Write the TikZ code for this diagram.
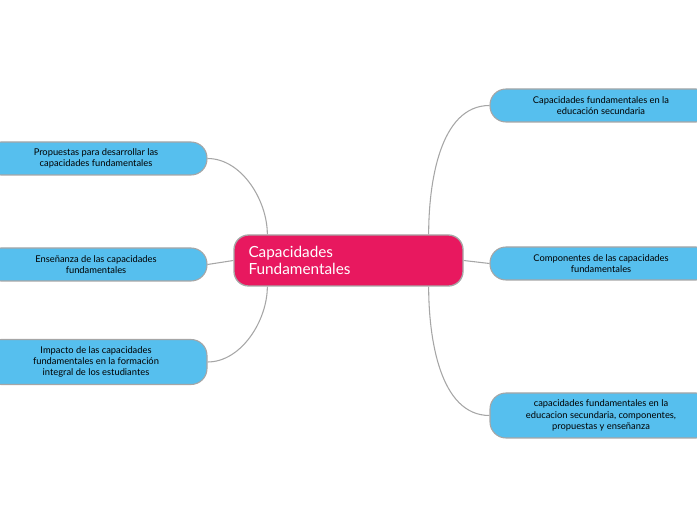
\documentclass[tikz,border=0pt]{standalone}
\usepackage{fontspec}
\setmainfont{Lato}
\usetikzlibrary{calc}
\begin{document}
\begin{tikzpicture}[x=0.75pt,y=-0.75pt,
  leaf/.style={draw=gray!70,line width=0.8pt,fill=skyb,rounded corners=12pt,minimum width=222*0.75pt,align=center,font=\fontsize{7}{8.5}\selectfont,inner sep=2pt},
  link/.style={draw=gray!70,line width=0.8pt}]
\definecolor{skyb}{HTML}{56BFEE}
\definecolor{crim}{HTML}{E8185F}
\useasboundingbox (0,0) rectangle (697,520);
\node[draw=gray!70,line width=1pt,fill=crim,rounded corners=11pt,minimum width=229*0.75pt,minimum height=51*0.75pt,text=white,font=\fontsize{11.5}{13}\selectfont,align=left,text width=150pt] (c) at (348.5,260.5) {Capacidades\\Fundamentales};
\node[leaf,minimum height=33*0.75pt] (r1) at (601,105.5) {Capacidades fundamentales en la\\educación secundaria};
\node[leaf,minimum height=33*0.75pt] (r2) at (601,263.5) {Componentes de las capacidades\\fundamentales};
\node[leaf,minimum height=45*0.75pt] (r3) at (601,415.5) {capacidades fundamentales en la\\educacion secundaria, componentes,\\propuestas y enseñanza};
\node[leaf,minimum height=33*0.75pt] (l1) at (96,158.5) {Propuestas para desarrollar las\\capacidades fundamentales};
\node[leaf,minimum height=33*0.75pt] (l2) at (96,264.5) {Enseñanza de las capacidades\\fundamentales};
\node[leaf,minimum height=45*0.75pt] (l3) at (96,362) {Impacto de las capacidades\\fundamentales en la formación\\integral de los estudiantes};
\coordinate (ctr) at ($(c.north east)+(-35,0)$);
\coordinate (cbr) at ($(c.south east)+(-35,0)$);
\coordinate (ctl) at ($(c.north west)+(34,0)$);
\coordinate (cbl) at ($(c.south west)+(34,0)$);
\draw[link] (ctr) to[out=90,in=180,looseness=0.9] (r1.west);
\draw[link] (c.east) -- (r2.west);
\draw[link] (cbr) to[out=-90,in=180,looseness=0.9] (r3.west);
\draw[link] (ctl) to[out=90,in=0,looseness=0.9] (l1.east);
\draw[link] (c.west) -- (l2.east);
\draw[link] (cbl) to[out=-90,in=0,looseness=0.9] (l3.east);
\end{tikzpicture}
\end{document}
